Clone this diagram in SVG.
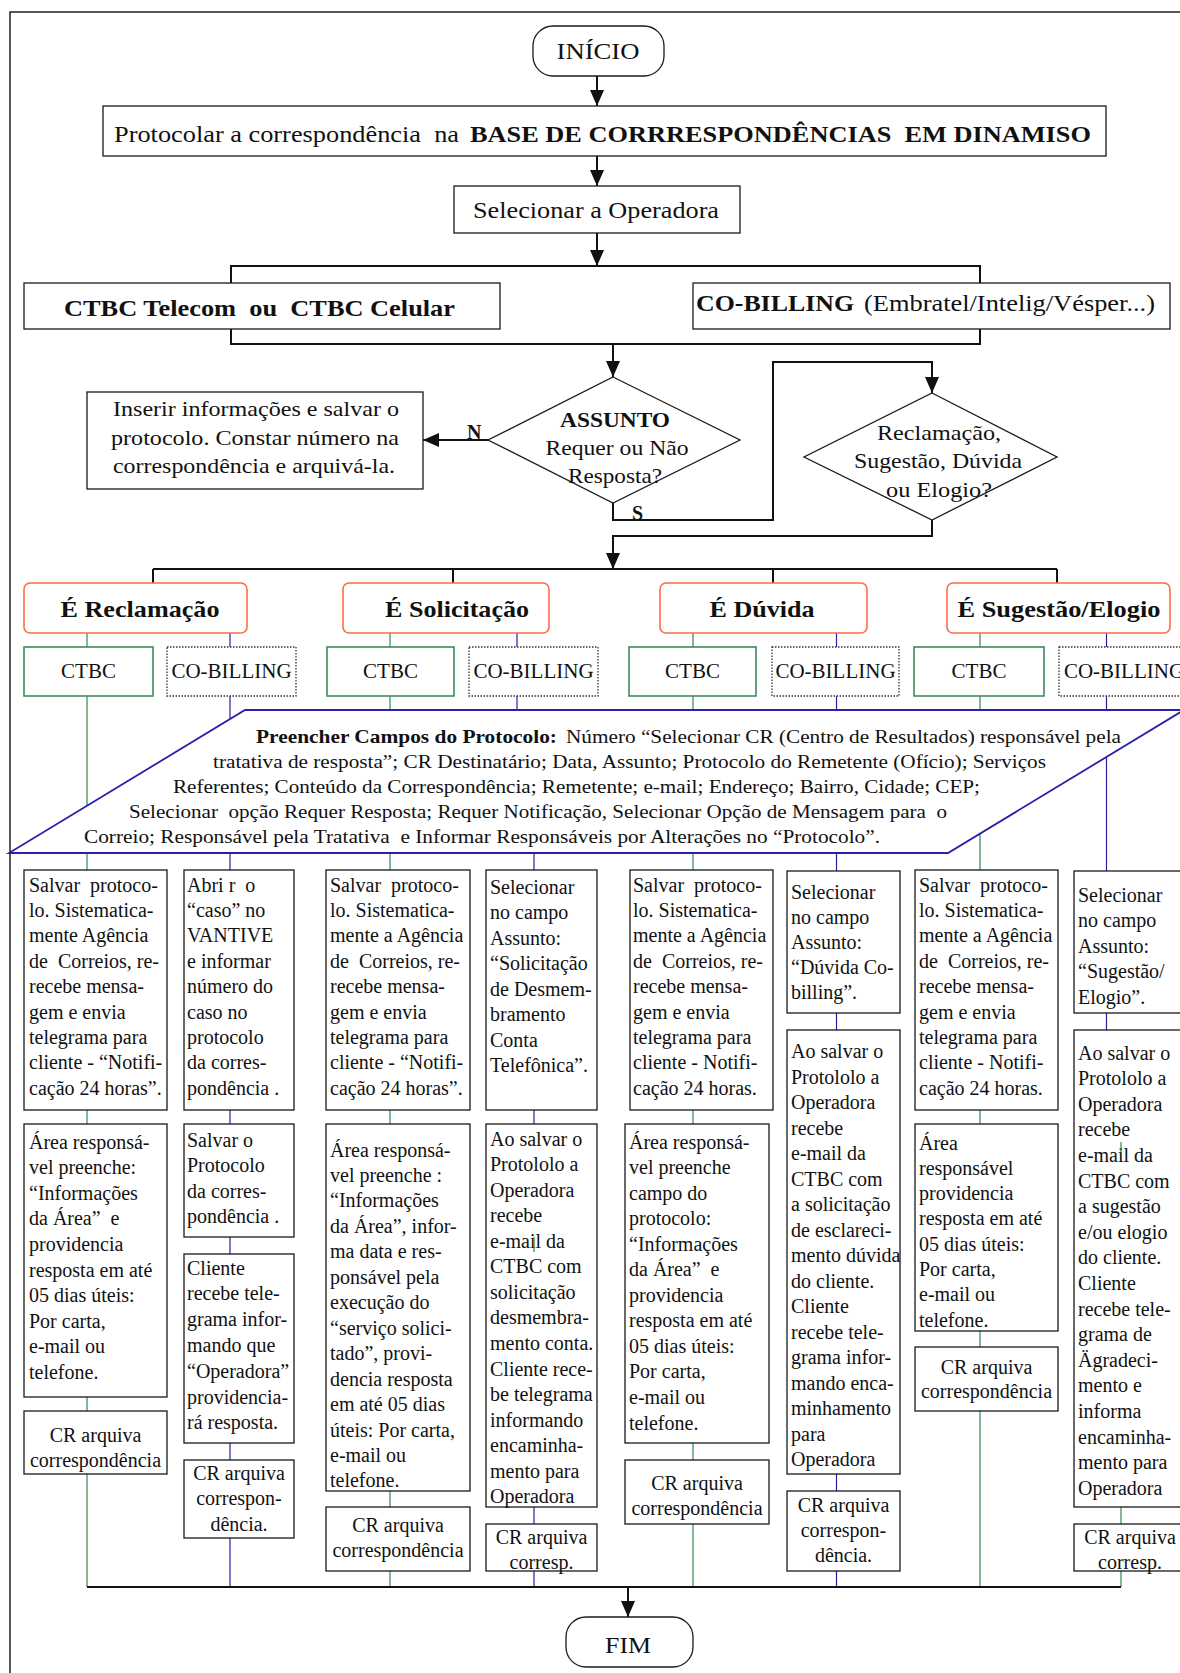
<svg xmlns="http://www.w3.org/2000/svg" width="1180" height="1673" viewBox="0 0 1180 1673">
<defs>
<style>
text { font-family: "Liberation Serif", "Times New Roman", serif; fill: #111; white-space: pre; }
.s { font-size: 20px; }
.m { font-size: 22px; }
.l { font-size: 24px; }
.p { font-size: 19px; }
.c { text-anchor: middle; }
.b { font-weight: bold; }
.box { fill: #fff; stroke: #1a1a1a; stroke-width: 1.3; }
.term { fill: #fff; stroke: #1a1a1a; stroke-width: 1.3; }
.cat { fill: #fff; stroke: #ff6a48; stroke-width: 1.6; }
.ctbc { fill: #fff; stroke: #3c8d5a; stroke-width: 1.6; }
.cob { fill: #fff; stroke: #333; stroke-width: 1.3; stroke-dasharray: 1.5 1.5; }
.para { fill: #fff; stroke: #2b20a8; stroke-width: 1.8; }
.ln { fill: none; stroke: #111; stroke-width: 2; }
.gl { fill: none; stroke: #2f8a4c; stroke-width: 1.2; }
.bl { fill: none; stroke: #2c1fa0; stroke-width: 1.2; }
</style>
<marker id="arr" markerUnits="userSpaceOnUse" viewBox="0 0 16 14" markerWidth="16" markerHeight="14" refX="16" refY="7" orient="auto">
<path d="M0,0 L16,7 L0,14 z" fill="#111"/>
</marker>
</defs>

<rect width="1180" height="1673" fill="#fff"/>
<!-- page frame -->
<path d="M10,1673 V12 H1180" fill="none" stroke="#222" stroke-width="1.5"/>

<g id="connectors">
  <line class="ln" x1="597" y1="76" x2="597" y2="106" marker-end="url(#arr)"/>
  <line class="ln" x1="597" y1="156" x2="597" y2="186" marker-end="url(#arr)"/>
  <line class="ln" x1="597" y1="233" x2="597" y2="266" marker-end="url(#arr)"/>
  <polyline class="ln" points="231,283 231,266 980,266 980,283"/>
  <polyline class="ln" points="231,329 231,344 980,344 980,329"/>
  <line class="ln" x1="613" y1="344" x2="613" y2="377" marker-end="url(#arr)"/>
  <line class="ln" x1="488" y1="440" x2="423" y2="440" stroke-width="4" marker-end="url(#arr)"/>
  <polyline class="ln" points="613,503 613,520 773,520 773,362 932,362 932,393" marker-end="url(#arr)"/>
  <polyline class="ln" points="932,520 932,536 613,536 613,569" marker-end="url(#arr)"/>
  <line class="ln" x1="153" y1="569" x2="1057" y2="569"/>
  <line class="ln" x1="153" y1="569" x2="153" y2="583"/>
  <line class="ln" x1="453" y1="569" x2="453" y2="583"/>
  <line class="ln" x1="773" y1="569" x2="773" y2="583"/>
  <line class="ln" x1="1057" y1="569" x2="1057" y2="583"/>
  <!-- branch columns -->
  <line class="gl" x1="87" y1="633" x2="87" y2="1587"/>
  <line class="bl" x1="230" y1="633" x2="230" y2="1587"/>
  <line class="gl" x1="390" y1="633" x2="390" y2="1587"/>
  <line class="bl" x1="517" y1="633" x2="517" y2="853"/>
  <line class="bl" x1="534" y1="853" x2="534" y2="1587"/>
  <line class="gl" x1="693" y1="633" x2="693" y2="1587"/>
  <line class="bl" x1="836.5" y1="633" x2="836.5" y2="1587"/>
  <line class="gl" x1="980" y1="633" x2="980" y2="1587"/>
  <line class="bl" x1="1106.5" y1="633" x2="1106.5" y2="1030"/>
  <line class="gl" x1="1121" y1="1507" x2="1121" y2="1587"/>
  <line class="ln" x1="87" y1="1587" x2="1121" y2="1587" stroke-width="1.6"/>
  <line class="ln" x1="628" y1="1587" x2="628" y2="1617" marker-end="url(#arr)"/>
</g>

<g id="inicio">
  <rect class="term" x="533" y="26" width="131" height="50" rx="20"/>
  <text class="c" x="598" y="59" style="font-size:23px" textLength="83" lengthAdjust="spacingAndGlyphs">INÍCIO</text>
</g>

<g id="protocolar">
  <rect class="box" x="103" y="106" width="1003" height="50"/>
  <text x="114" y="142" style="font-size:23px" textLength="345" lengthAdjust="spacingAndGlyphs">Protocolar a correspondência  na</text>
  <text class="b" x="470" y="142" style="font-size:23px" textLength="621" lengthAdjust="spacingAndGlyphs">BASE DE CORRRESPONDÊNCIAS  EM DINAMISO</text>
</g>

<g id="selecionar-operadora">
  <rect class="box" x="454" y="186" width="286" height="47"/>
  <text class="l c" x="596" y="218" textLength="246" lengthAdjust="spacingAndGlyphs">Selecionar a Operadora</text>
</g>

<g id="ctbc-telecom">
  <rect class="box" x="24" y="283" width="476" height="46"/>
  <text class="l b" x="64" y="316" textLength="391" lengthAdjust="spacingAndGlyphs">CTBC Telecom  ou  CTBC Celular</text>
</g>

<g id="co-billing-operadora">
  <rect class="box" x="693" y="283" width="477" height="46"/>
  <text class="l b" x="696" y="311" textLength="158" lengthAdjust="spacingAndGlyphs">CO-BILLING</text>
  <text class="l" x="864" y="311" textLength="291" lengthAdjust="spacingAndGlyphs">(Embratel/Intelig/Vésper...)</text>
</g>

<g id="assunto">
  <polygon class="box" points="613,377 740,440 613,503 488,440"/>
  <text class="m c b" x="615" y="427" textLength="110" lengthAdjust="spacingAndGlyphs">ASSUNTO</text>
  <text class="m c" x="617" y="455" textLength="143" lengthAdjust="spacingAndGlyphs">Requer ou Não</text>
  <text class="m c" x="615" y="483" textLength="94" lengthAdjust="spacingAndGlyphs">Resposta?</text>
  <text class="b" x="467" y="439" style="font-size:20px">N</text>
  <text class="b" x="632" y="520" style="font-size:20px">S</text>
</g>

<g id="inserir">
  <rect class="box" x="87" y="392" width="336" height="97"/>
  <text class="m" x="113" y="416" textLength="286" lengthAdjust="spacingAndGlyphs">Inserir informações e salvar o</text>
  <text class="m" x="111" y="445" textLength="288" lengthAdjust="spacingAndGlyphs">protocolo. Constar número na</text>
  <text class="m" x="113" y="473" textLength="282" lengthAdjust="spacingAndGlyphs">correspondência e arquivá-la.</text>
</g>

<g id="tipo">
  <polygon class="box" points="932,393 1057,457 932,520 804,457"/>
  <text class="m c" x="939" y="440" textLength="124" lengthAdjust="spacingAndGlyphs">Reclamação,</text>
  <text class="m c" x="938" y="468" textLength="168" lengthAdjust="spacingAndGlyphs">Sugestão, Dúvida</text>
  <text class="m c" x="939" y="497" textLength="106" lengthAdjust="spacingAndGlyphs">ou Elogio?</text>
</g>

<g id="e-reclamacao">
  <rect class="cat" x="24" y="583" width="223" height="50" rx="6"/>
  <text class="l c b" x="140" y="617" textLength="159" lengthAdjust="spacingAndGlyphs">É Reclamação</text>
</g>
<g id="e-solicitacao">
  <rect class="cat" x="343" y="583" width="206" height="50" rx="6"/>
  <text class="l c b" x="457" y="617" textLength="144" lengthAdjust="spacingAndGlyphs">É Solicitação</text>
</g>
<g id="e-duvida">
  <rect class="cat" x="660" y="583" width="207" height="50" rx="6"/>
  <text class="l c b" x="762" y="617" textLength="105" lengthAdjust="spacingAndGlyphs">É Dúvida</text>
</g>
<g id="e-sugestao">
  <rect class="cat" x="947" y="583" width="223" height="50" rx="6"/>
  <text class="l c b" x="1059" y="617" textLength="203" lengthAdjust="spacingAndGlyphs">É Sugestão/Elogio</text>
</g>

<g id="ctbc-1"><rect class="ctbc" x="24" y="647" width="129" height="49"/><text class="c" style="font-size:21px" x="88.5" y="678">CTBC</text></g>
<g id="cob-1"><rect class="cob" x="167" y="647" width="129" height="49"/><text class="c" style="font-size:21px" x="231.5" y="678">CO-BILLING</text></g>
<g id="ctbc-2"><rect class="ctbc" x="327" y="647" width="127" height="49"/><text class="c" style="font-size:21px" x="390.5" y="678">CTBC</text></g>
<g id="cob-2"><rect class="cob" x="469" y="647" width="129" height="49"/><text class="c" style="font-size:21px" x="533.5" y="678">CO-BILLING</text></g>
<g id="ctbc-3"><rect class="ctbc" x="629" y="647" width="127" height="49"/><text class="c" style="font-size:21px" x="692.5" y="678">CTBC</text></g>
<g id="cob-3"><rect class="cob" x="772" y="647" width="127" height="49"/><text class="c" style="font-size:21px" x="835.5" y="678">CO-BILLING</text></g>
<g id="ctbc-4"><rect class="ctbc" x="914" y="647" width="130" height="49"/><text class="c" style="font-size:21px" x="979" y="678">CTBC</text></g>
<g id="cob-4"><rect class="cob" x="1059" y="647" width="130" height="49"/><text class="c" style="font-size:21px" x="1124" y="678">CO-BILLING</text></g>

<g id="preencher">
  <polygon class="para" points="245,710 1184,710 948,853 9,853"/>
  <text class="p b" x="256" y="742.5" textLength="301" lengthAdjust="spacingAndGlyphs">Preencher Campos do Protocolo:</text>
  <text class="p" x="566" y="742.5" textLength="555" lengthAdjust="spacingAndGlyphs">Número “Selecionar CR (Centro de Resultados) responsável pela</text>
  <text class="p" x="213" y="767.5" textLength="833" lengthAdjust="spacingAndGlyphs">tratativa de resposta”; CR Destinatário; Data, Assunto; Protocolo do Remetente (Ofício); Serviços</text>
  <text class="p" x="173" y="792.5" textLength="807" lengthAdjust="spacingAndGlyphs">Referentes; Conteúdo da Correspondência; Remetente; e-mail; Endereço; Bairro, Cidade; CEP;</text>
  <text class="p" x="129" y="817.5" textLength="818" lengthAdjust="spacingAndGlyphs">Selecionar  opção Requer Resposta; Requer Notificação, Selecionar Opção de Mensagem para  o</text>
  <text class="p" x="84" y="842.5" textLength="796" lengthAdjust="spacingAndGlyphs">Correio; Responsável pela Tratativa  e Informar Responsáveis por Alterações no “Protocolo”.</text>
</g>

<!-- Reclamação / CTBC -->
<g id="a1"><rect class="box" x="24" y="870" width="143" height="240"/>
<text class="s" x="29" y="891.5"><tspan x="29">Salvar  protoco-</tspan><tspan x="29" dy="25.4">lo. Sistematica-</tspan><tspan x="29" dy="25.4">mente Agência</tspan><tspan x="29" dy="25.4">de  Correios, re-</tspan><tspan x="29" dy="25.4">recebe mensa-</tspan><tspan x="29" dy="25.4">gem e envia</tspan><tspan x="29" dy="25.4">telegrama para</tspan><tspan x="29" dy="25.4">cliente - “Notifi-</tspan><tspan x="29" dy="25.4">cação 24 horas”.</tspan></text></g>
<g id="a2"><rect class="box" x="24" y="1124" width="143" height="273"/>
<text class="s" x="29" y="1148.5"><tspan x="29">Área responsá-</tspan><tspan x="29" dy="25.6">vel preenche:</tspan><tspan x="29" dy="25.6">“Informações</tspan><tspan x="29" dy="25.6">da Área”  e</tspan><tspan x="29" dy="25.6">providencia</tspan><tspan x="29" dy="25.6">resposta em até</tspan><tspan x="29" dy="25.6">05 dias úteis:</tspan><tspan x="29" dy="25.6">Por carta,</tspan><tspan x="29" dy="25.6">e-mail ou</tspan><tspan x="29" dy="25.6">telefone.</tspan></text></g>
<g id="a3"><rect class="box" x="24" y="1411" width="143" height="63"/>
<text class="s c" x="95.5" y="1441.5"><tspan x="95.5">CR arquiva</tspan><tspan x="95.5" dy="25">correspondência</tspan></text></g>

<!-- Reclamação / CO-BILLING -->
<g id="b1"><rect class="box" x="184" y="870" width="110" height="240"/>
<text class="s" x="187" y="891.5"><tspan x="187">Abri r  o</tspan><tspan x="187" dy="25.4">“caso” no</tspan><tspan x="187" dy="25.4">VANTIVE</tspan><tspan x="187" dy="25.4">e informar</tspan><tspan x="187" dy="25.4">número do</tspan><tspan x="187" dy="25.4">caso no</tspan><tspan x="187" dy="25.4">protocolo</tspan><tspan x="187" dy="25.4">da corres-</tspan><tspan x="187" dy="25.4">pondência .</tspan></text></g>
<g id="b2"><rect class="box" x="184" y="1124" width="110" height="113"/>
<text class="s" x="187" y="1146.5"><tspan x="187">Salvar o</tspan><tspan x="187" dy="25.5">Protocolo</tspan><tspan x="187" dy="25.5">da corres-</tspan><tspan x="187" dy="25.5">pondência .</tspan></text></g>
<g id="b3"><rect class="box" x="184" y="1254" width="110" height="189"/>
<text class="s" x="187" y="1274.5"><tspan x="187">Cliente</tspan><tspan x="187" dy="25.8">recebe tele-</tspan><tspan x="187" dy="25.8">grama infor-</tspan><tspan x="187" dy="25.8">mando que</tspan><tspan x="187" dy="25.8">“Operadora”</tspan><tspan x="187" dy="25.8">providencia-</tspan><tspan x="187" dy="25.8">rá resposta.</tspan></text></g>
<g id="b4"><rect class="box" x="184" y="1460" width="110" height="78"/>
<text class="s c" x="239" y="1479.5"><tspan x="239">CR arquiva</tspan><tspan x="239" dy="25.6">correspon-</tspan><tspan x="239" dy="25.6">dência.</tspan></text></g>

<!-- Solicitação / CTBC -->
<g id="c1"><rect class="box" x="326" y="870" width="144" height="240"/>
<text class="s" x="330" y="891.5"><tspan x="330">Salvar  protoco-</tspan><tspan x="330" dy="25.4">lo. Sistematica-</tspan><tspan x="330" dy="25.4">mente a Agência</tspan><tspan x="330" dy="25.4">de  Correios, re-</tspan><tspan x="330" dy="25.4">recebe mensa-</tspan><tspan x="330" dy="25.4">gem e envia</tspan><tspan x="330" dy="25.4">telegrama para</tspan><tspan x="330" dy="25.4">cliente - “Notifi-</tspan><tspan x="330" dy="25.4">cação 24 horas”.</tspan></text></g>
<g id="c2"><rect class="box" x="326" y="1124" width="144" height="367"/>
<text class="s" x="330" y="1156.5"><tspan x="330">Área responsá-</tspan><tspan x="330" dy="25.46">vel preenche :</tspan><tspan x="330" dy="25.46">“Informações</tspan><tspan x="330" dy="25.46">da Área”, infor-</tspan><tspan x="330" dy="25.46">ma data e res-</tspan><tspan x="330" dy="25.46">ponsável pela</tspan><tspan x="330" dy="25.46">execução do</tspan><tspan x="330" dy="25.46">“serviço solici-</tspan><tspan x="330" dy="25.46">tado”, provi-</tspan><tspan x="330" dy="25.46">dencia resposta</tspan><tspan x="330" dy="25.46">em até 05 dias</tspan><tspan x="330" dy="25.46">úteis: Por carta,</tspan><tspan x="330" dy="25.46">e-mail ou</tspan><tspan x="330" dy="25.46">telefone.</tspan></text></g>
<g id="c3"><rect class="box" x="326" y="1507" width="144" height="64"/>
<text class="s c" x="398" y="1531.5"><tspan x="398">CR arquiva</tspan><tspan x="398" dy="25">correspondência</tspan></text></g>

<!-- Solicitação / CO-BILLING -->
<g id="d1"><rect class="box" x="486" y="870" width="111" height="240"/>
<text class="s" x="490" y="893.5"><tspan x="490">Selecionar</tspan><tspan x="490" dy="25.57">no campo</tspan><tspan x="490" dy="25.57">Assunto:</tspan><tspan x="490" dy="25.57">“Solicitação</tspan><tspan x="490" dy="25.57">de Desmem-</tspan><tspan x="490" dy="25.57">bramento</tspan><tspan x="490" dy="25.57">Conta</tspan><tspan x="490" dy="25.57">Telefônica”.</tspan></text></g>
<g id="d2"><rect class="box" x="486" y="1124" width="111" height="383"/>
<text class="s" x="490" y="1145.5"><tspan x="490">Ao salvar o</tspan><tspan x="490" dy="25.57">Protololo a</tspan><tspan x="490" dy="25.57">Operadora</tspan><tspan x="490" dy="25.57">recebe</tspan><tspan x="490" dy="25.57">e-mail da</tspan><tspan x="490" dy="25.57">CTBC com</tspan><tspan x="490" dy="25.57">solicitação</tspan><tspan x="490" dy="25.57">desmembra-</tspan><tspan x="490" dy="25.57">mento conta.</tspan><tspan x="490" dy="25.57">Cliente rece-</tspan><tspan x="490" dy="25.57">be telegrama</tspan><tspan x="490" dy="25.57">informando</tspan><tspan x="490" dy="25.57">encaminha-</tspan><tspan x="490" dy="25.57">mento para</tspan><tspan x="490" dy="25.57">Operadora</tspan></text>
<line class="gl" x1="534" y1="1237" x2="534" y2="1252"/></g>
<g id="d3"><rect class="box" x="486" y="1524" width="111" height="47"/>
<text class="s c" x="541.5" y="1543.5"><tspan x="541.5">CR arquiva</tspan><tspan x="541.5" dy="25">corresp.</tspan></text></g>

<!-- Dúvida / CTBC -->
<g id="e1"><rect class="box" x="630" y="870" width="143" height="240"/>
<text class="s" x="633" y="891.5"><tspan x="633">Salvar  protoco-</tspan><tspan x="633" dy="25.4">lo. Sistematica-</tspan><tspan x="633" dy="25.4">mente a Agência</tspan><tspan x="633" dy="25.4">de  Correios, re-</tspan><tspan x="633" dy="25.4">recebe mensa-</tspan><tspan x="633" dy="25.4">gem e envia</tspan><tspan x="633" dy="25.4">telegrama para</tspan><tspan x="633" dy="25.4">cliente - Notifi-</tspan><tspan x="633" dy="25.4">cação 24 horas.</tspan></text></g>
<g id="e2"><rect class="box" x="625" y="1124" width="144" height="319"/>
<text class="s" x="629" y="1148.5"><tspan x="629">Área responsá-</tspan><tspan x="629" dy="25.55">vel preenche</tspan><tspan x="629" dy="25.55">campo do</tspan><tspan x="629" dy="25.55">protocolo:</tspan><tspan x="629" dy="25.55">“Informações</tspan><tspan x="629" dy="25.55">da Área”  e</tspan><tspan x="629" dy="25.55">providencia</tspan><tspan x="629" dy="25.55">resposta em até</tspan><tspan x="629" dy="25.55">05 dias úteis:</tspan><tspan x="629" dy="25.55">Por carta,</tspan><tspan x="629" dy="25.55">e-mail ou</tspan><tspan x="629" dy="25.55">telefone.</tspan></text></g>
<g id="e3"><rect class="box" x="625" y="1460" width="144" height="64"/>
<text class="s c" x="697" y="1489.5"><tspan x="697">CR arquiva</tspan><tspan x="697" dy="25">correspondência</tspan></text></g>

<!-- Dúvida / CO-BILLING -->
<g id="f1"><rect class="box" x="787" y="871" width="113" height="142"/>
<text class="s" x="791" y="898.5"><tspan x="791">Selecionar</tspan><tspan x="791" dy="25">no campo</tspan><tspan x="791" dy="25">Assunto:</tspan><tspan x="791" dy="25">“Dúvida Co-</tspan><tspan x="791" dy="25">billing”.</tspan></text></g>
<g id="f2"><rect class="box" x="787" y="1030" width="113" height="444"/>
<text class="s" x="791" y="1058"><tspan x="791">Ao salvar o</tspan><tspan x="791" dy="25.53">Protololo a</tspan><tspan x="791" dy="25.53">Operadora</tspan><tspan x="791" dy="25.53">recebe</tspan><tspan x="791" dy="25.53">e-mail da</tspan><tspan x="791" dy="25.53">CTBC com</tspan><tspan x="791" dy="25.53">a solicitação</tspan><tspan x="791" dy="25.53">de esclareci-</tspan><tspan x="791" dy="25.53">mento dúvida</tspan><tspan x="791" dy="25.53">do cliente.</tspan><tspan x="791" dy="25.53">Cliente</tspan><tspan x="791" dy="25.53">recebe tele-</tspan><tspan x="791" dy="25.53">grama infor-</tspan><tspan x="791" dy="25.53">mando enca-</tspan><tspan x="791" dy="25.53">minhamento</tspan><tspan x="791" dy="25.53">para</tspan><tspan x="791" dy="25.53">Operadora</tspan></text></g>
<g id="f3"><rect class="box" x="787" y="1491" width="113" height="80"/>
<text class="s c" x="843.5" y="1511.5"><tspan x="843.5">CR arquiva</tspan><tspan x="843.5" dy="25">correspon-</tspan><tspan x="843.5" dy="25">dência.</tspan></text></g>

<!-- Sugestão / CTBC -->
<g id="g1"><rect class="box" x="915" y="870" width="143" height="240"/>
<text class="s" x="919" y="891.5"><tspan x="919">Salvar  protoco-</tspan><tspan x="919" dy="25.4">lo. Sistematica-</tspan><tspan x="919" dy="25.4">mente a Agência</tspan><tspan x="919" dy="25.4">de  Correios, re-</tspan><tspan x="919" dy="25.4">recebe mensa-</tspan><tspan x="919" dy="25.4">gem e envia</tspan><tspan x="919" dy="25.4">telegrama para</tspan><tspan x="919" dy="25.4">cliente - Notifi-</tspan><tspan x="919" dy="25.4">cação 24 horas.</tspan></text></g>
<g id="g2"><rect class="box" x="915" y="1124" width="143" height="207"/>
<text class="s" x="919" y="1149.5"><tspan x="919">Área</tspan><tspan x="919" dy="25.3">responsável</tspan><tspan x="919" dy="25.3">providencia</tspan><tspan x="919" dy="25.3">resposta em até</tspan><tspan x="919" dy="25.3">05 dias úteis:</tspan><tspan x="919" dy="25.3">Por carta,</tspan><tspan x="919" dy="25.3">e-mail ou</tspan><tspan x="919" dy="25.3">telefone.</tspan></text></g>
<g id="g3"><rect class="box" x="915" y="1347" width="143" height="64"/>
<text class="s c" x="986.5" y="1373.5"><tspan x="986.5">CR arquiva</tspan><tspan x="986.5" dy="24">correspondência</tspan></text></g>

<!-- Sugestão / CO-BILLING -->
<g id="h1"><rect class="box" x="1074" y="871" width="120" height="142"/>
<text class="s" x="1078" y="901.5"><tspan x="1078">Selecionar</tspan><tspan x="1078" dy="25.5">no campo</tspan><tspan x="1078" dy="25.5">Assunto:</tspan><tspan x="1078" dy="25.5">“Sugestão/</tspan><tspan x="1078" dy="25.5">Elogio”.</tspan></text></g>
<g id="h2"><rect class="box" x="1074" y="1030" width="120" height="477"/>
<text class="s" x="1078" y="1059.5"><tspan x="1078">Ao salvar o</tspan><tspan x="1078" dy="25.6">Protololo a</tspan><tspan x="1078" dy="25.6">Operadora</tspan><tspan x="1078" dy="25.6">recebe</tspan><tspan x="1078" dy="25.6">e-mail da</tspan><tspan x="1078" dy="25.6">CTBC com</tspan><tspan x="1078" dy="25.6">a sugestão</tspan><tspan x="1078" dy="25.6">e/ou elogio</tspan><tspan x="1078" dy="25.6">do cliente.</tspan><tspan x="1078" dy="25.6">Cliente</tspan><tspan x="1078" dy="25.6">recebe tele-</tspan><tspan x="1078" dy="25.6">grama de</tspan><tspan x="1078" dy="25.6">Ägradeci-</tspan><tspan x="1078" dy="25.6">mento e</tspan><tspan x="1078" dy="25.6">informa</tspan><tspan x="1078" dy="25.6">encaminha-</tspan><tspan x="1078" dy="25.6">mento para</tspan><tspan x="1078" dy="25.6">Operadora</tspan></text>
<line class="gl" x1="1121" y1="1142" x2="1121" y2="1153"/></g>
<g id="h3"><rect class="box" x="1074" y="1524" width="120" height="47"/>
<text class="s c" x="1130" y="1543.5"><tspan x="1130">CR arquiva</tspan><tspan x="1130" dy="25">corresp.</tspan></text></g>

<g id="fim">
  <rect class="term" x="566" y="1617" width="127" height="50" rx="20"/>
  <text class="c" x="628" y="1653" style="font-size:24px" textLength="46" lengthAdjust="spacingAndGlyphs">FIM</text>
</g>
</svg>
